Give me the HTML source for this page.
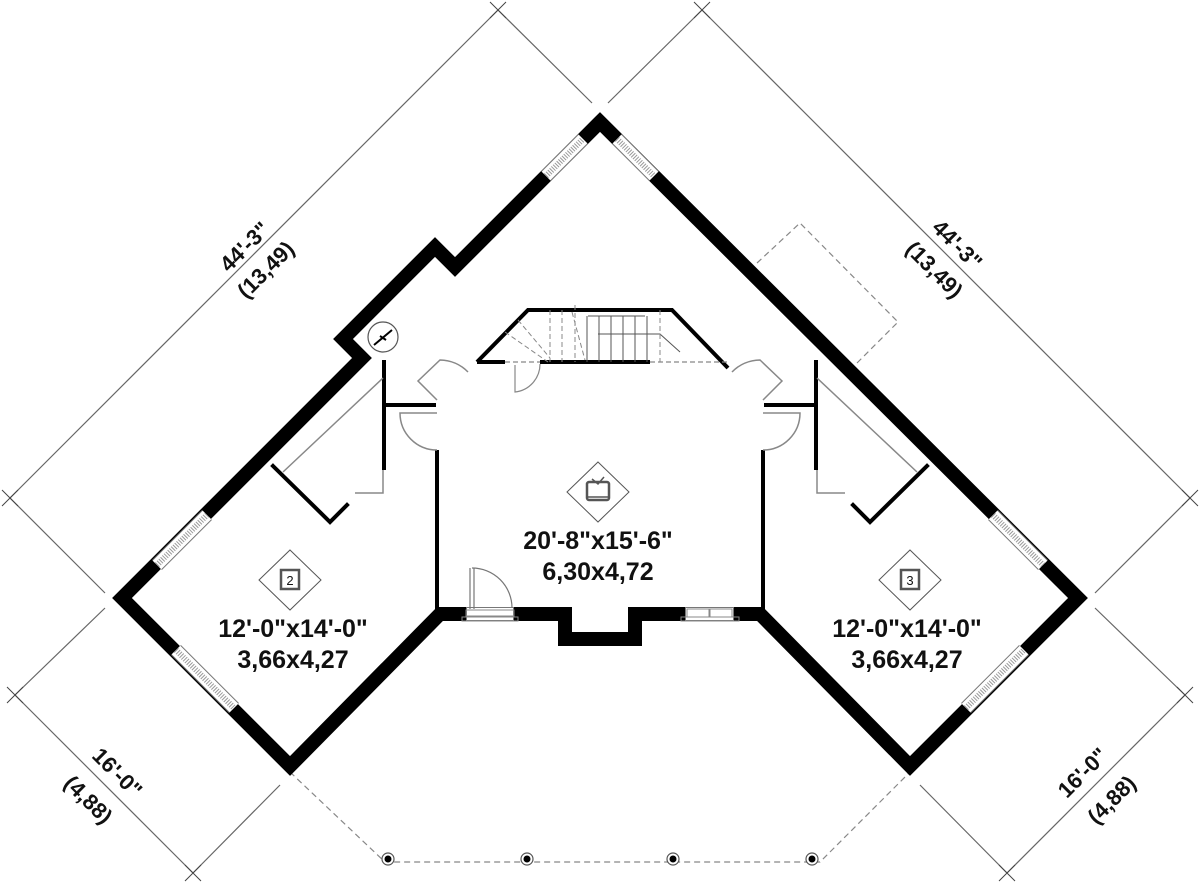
<!DOCTYPE html>
<html><head><meta charset="utf-8"><style>
html,body{margin:0;padding:0;background:#fff}
svg{display:block}
text{font-family:"Liberation Sans",Arial,sans-serif;font-weight:bold;fill:#111}
</style></head><body>
<svg width="1200" height="882" viewBox="0 0 1200 882" xmlns="http://www.w3.org/2000/svg">
<g stroke="#666" stroke-width="1.2" fill="none">
<line x1="498" y1="10" x2="10" y2="498"/>
<line x1="498" y1="10" x2="592" y2="103"/>
<line x1="10" y1="498" x2="105" y2="593"/>
<line x1="702" y1="10" x2="1190" y2="498"/>
<line x1="702" y1="10" x2="608" y2="103"/>
<line x1="1190" y1="498" x2="1095" y2="593"/>
<line x1="15" y1="695" x2="193" y2="873"/>
<line x1="15" y1="695" x2="105" y2="608"/>
<line x1="193" y1="873" x2="280" y2="785"/>
<line x1="1185" y1="695" x2="1007" y2="873"/>
<line x1="1185" y1="695" x2="1095" y2="608"/>
<line x1="1007" y1="873" x2="920" y2="785"/>
</g>
<g stroke="#444" stroke-width="1">
<path d="M490 2 L506 18 M490 18 L506 2"/>
<path d="M694 2 L710 18 M694 18 L710 2"/>
<path d="M2 490 L18 506 M2 506 L18 490"/>
<path d="M1182 490 L1198 506 M1182 506 L1198 490"/>
<path d="M7 687 L23 703 M7 703 L23 687"/>
<path d="M185 865 L201 881 M185 881 L201 865"/>
<path d="M1177 687 L1193 703 M1177 703 L1193 687"/>
<path d="M999 865 L1015 881 M999 881 L1015 865"/>
</g>
<g font-size="22" text-anchor="middle">
<text transform="translate(250,252) rotate(-45)">44'-3"</text>
<text transform="translate(271,275) rotate(-45)">(13,49)</text>
<text transform="translate(952,250) rotate(45)">44'-3"</text>
<text transform="translate(929,275) rotate(45)">(13,49)</text>
<text transform="translate(112,778) rotate(45)">16'-0"</text>
<text transform="translate(83,805) rotate(45)">(4,88)</text>
<text transform="translate(1088,778) rotate(-45)">16'-0"</text>
<text transform="translate(1117,805) rotate(-45)">(4,88)</text>
</g>
<path d="M290 772 L385 862 L820 862 L910 772" fill="none" stroke="#888" stroke-width="1.2" stroke-dasharray="6,4"/>
<g fill="#fff" stroke="#555" stroke-width="1.2">
<circle cx="388" cy="859" r="6"/><circle cx="527" cy="859" r="6"/><circle cx="673" cy="859" r="6"/><circle cx="812" cy="859" r="6"/>
</g>
<g fill="#000"><circle cx="388" cy="859" r="3.5"/><circle cx="527" cy="859" r="3.5"/><circle cx="673" cy="859" r="3.5"/><circle cx="812" cy="859" r="3.5"/></g>
<path d="M757 263 L800 223 L898 322 L857 363" fill="none" stroke="#888" stroke-width="1.2" stroke-dasharray="6,4"/>
<path d="M600 122 L455 267 L435 247 L343 339 L362 358 L122 598 L290 766 L440 614 L565 614 L565 639 L635 639 L635 614 L760 614 L910 766 L1078 598 Z" fill="none" stroke="#000" stroke-width="14" stroke-linejoin="miter"/>
<g stroke-linecap="butt">
<g stroke="#777" stroke-width="14">
<line x1="546" y1="176" x2="583" y2="139"/><line x1="617" y1="139" x2="654" y2="176"/>
<line x1="157" y1="565" x2="207" y2="515"/><line x1="176" y1="650" x2="234" y2="708"/>
<line x1="993" y1="515" x2="1043" y2="565"/><line x1="966" y1="708" x2="1024" y2="650"/>
<line x1="466" y1="614" x2="514" y2="614"/><line x1="685" y1="614" x2="734" y2="614"/>
</g>
<g stroke="#fff" stroke-width="12">
<line x1="546" y1="176" x2="583" y2="139"/><line x1="617" y1="139" x2="654" y2="176"/>
<line x1="157" y1="565" x2="207" y2="515"/><line x1="176" y1="650" x2="234" y2="708"/>
<line x1="993" y1="515" x2="1043" y2="565"/><line x1="966" y1="708" x2="1024" y2="650"/>
<line x1="467" y1="614" x2="513" y2="614"/><line x1="686" y1="614" x2="733" y2="614"/>
</g>
<g stroke="#999" stroke-width="6" stroke-dasharray="1,1.5">
<line x1="546" y1="176" x2="583" y2="139"/><line x1="617" y1="139" x2="654" y2="176"/>
<line x1="157" y1="565" x2="207" y2="515"/><line x1="176" y1="650" x2="234" y2="708"/>
<line x1="993" y1="515" x2="1043" y2="565"/><line x1="966" y1="708" x2="1024" y2="650"/>
</g>
<g stroke="#888" stroke-width="1" fill="none">
<rect x="466" y="610" width="48" height="6"/><rect x="462" y="617" width="56" height="4"/>
<rect x="687" y="609" width="22" height="8"/><rect x="710" y="609" width="22" height="8"/><rect x="681" y="617" width="58" height="4"/>
</g>
</g>
<g stroke="#777" stroke-width="1.2" fill="none">
<path d="M470 568 L470 609 M474 568 L474 609"/>
<path d="M472 568 A40 40 0 0 1 512 608"/>
</g>
<g stroke="#000" stroke-width="4" fill="none" stroke-linecap="square">
<line x1="437" y1="452" x2="437" y2="610"/>
<line x1="763" y1="452" x2="763" y2="610"/>
<path d="M384 362 L384 468"/>
<path d="M384 405 L434 405"/>
<path d="M816 362 L816 468"/>
<path d="M816 405 L766 405"/>
<path d="M273 466 L330 522 L347 505"/>
<path d="M927 466 L870 522 L853 505"/>
</g>
<g stroke="#888" stroke-width="1.5" fill="none">
<path d="M383 470 L383 493 L355 493"/>
<path d="M817 470 L817 493 L845 493"/>
<line x1="283" y1="472" x2="383" y2="378"/>
<line x1="917" y1="472" x2="817" y2="378"/>
<path d="M437 413 L400 413 A37 37 0 0 0 437 450"/>
<path d="M763 413 L800 413 A37 37 0 0 1 763 450"/>
<path d="M437 400 L418 381 L440 360 A40 40 0 0 1 468 372"/>
<path d="M763 400 L782 381 L760 360 A40 40 0 0 0 732 372"/>
</g>
<g fill="none">
<path d="M477 362 L528 310 L672 310 L728 368" stroke="#000" stroke-width="4"/>
<path d="M477 362 L505 362 M540 362 L650 362" stroke="#000" stroke-width="4"/>
<path d="M650 362 L728 362 M505 362 L540 362" stroke="#888" stroke-width="1.2" stroke-dasharray="5,3"/>
<g stroke="#555" stroke-width="1">
<path d="M588 316 L645 316 M598 334 L660 334 L680 352"/>
<path d="M587 316 V362 M599 316 V362 M611 316 V362 M623 316 V362 M635 316 V362 M647 316 V362"/>
</g>
<g stroke="#888" stroke-width="1" stroke-dasharray="5,3">
<path d="M550 310 V362 M562 310 V362 M575 305 V362 M660 310 V362 M505 332 L548 362 M518 320 L550 358 M572 312 L585 360"/>
</g>
<path d="M515 365 V392 A28 28 0 0 0 540 364" stroke="#888" stroke-width="1.2"/>
</g>
<circle cx="383" cy="337" r="15" fill="#fff" stroke="#555" stroke-width="1.2"/>
<path d="M374 345 L392 330 M380 336 L386 340" stroke="#000" stroke-width="2"/>
<g fill="#fff" stroke="#555" stroke-width="1">
<path d="M290 550 L321 580 L290 610 L259 580 Z"/>
<path d="M598 462 L629 492 L598 522 L567 492 Z"/>
<path d="M910 550 L941 580 L910 610 L879 580 Z"/>
</g>
<g fill="none" stroke="#555" stroke-width="2.5">
<rect x="281" y="570" width="18" height="19"/>
<rect x="901" y="570" width="18" height="19"/>
<rect x="587" y="482" width="22" height="18" rx="2"/>
<path d="M592 479 L598 484 L604 477 M587 497 H609" stroke-width="1.5"/>
</g>
<g font-size="13" text-anchor="middle"><text x="290" y="585" style="font-weight:normal">2</text><text x="910" y="585" style="font-weight:normal">3</text></g>
<g font-size="25" text-anchor="middle">
<text x="293" y="637">12'-0"x14'-0"</text>
<text x="293" y="668">3,66x4,27</text>
<text x="598" y="549">20'-8"x15'-6"</text>
<text x="598" y="580">6,30x4,72</text>
<text x="907" y="637">12'-0"x14'-0"</text>
<text x="907" y="668">3,66x4,27</text>
</g>
</svg>
</body></html>
